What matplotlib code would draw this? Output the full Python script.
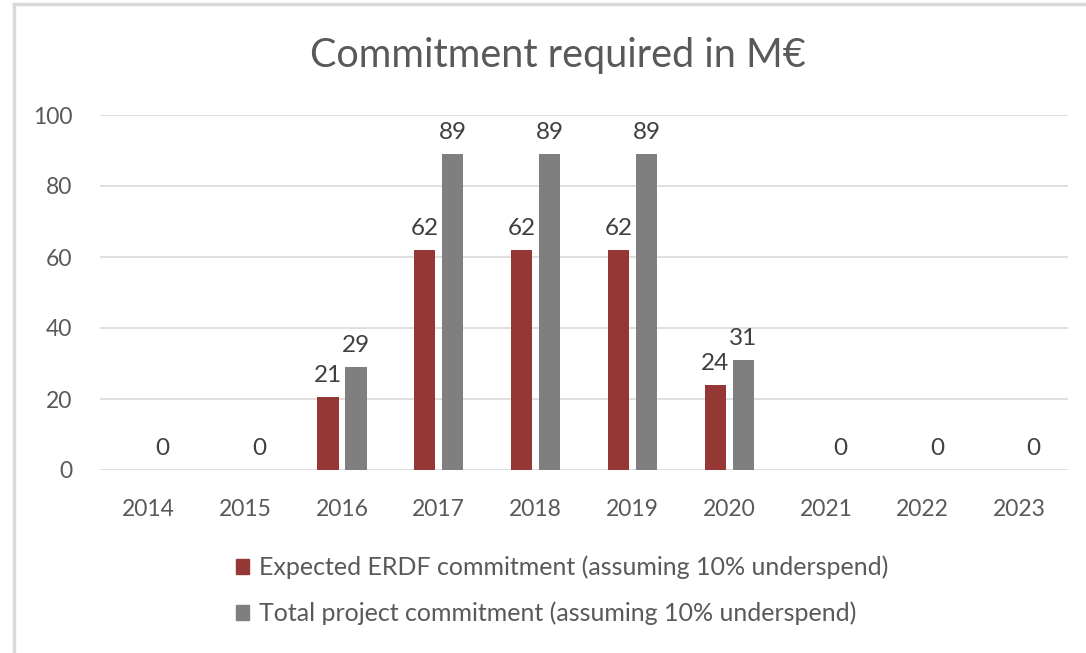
import numpy as np
import matplotlib.pyplot as plt
from matplotlib.patches import Patch
from matplotlib.lines import Line2D

years = ['2014', '2015', '2016', '2017', '2018', '2019', '2020', '2021', '2022', '2023']
erdf = [0, 0, 20.6, 62, 62, 62, 24, 0, 0, 0]
total = [0, 0, 29, 89, 89, 89, 31, 0, 0, 0]
erdf_labels = ['', '', '21', '62', '62', '62', '24', '', '', '']
total_labels = ['0', '0', '29', '89', '89', '89', '31', '0', '0', '0']

red = '#953735'
grey = '#7f7f7f'
txt = '#595959'

plt.rcParams['font.family'] = ['Lato', 'DejaVu Sans']

fig = plt.figure(figsize=(10.86, 6.53), dpi=100)
ax = fig.add_axes([100 / 1086, 1 - 470 / 653, 968 / 1086, 355 / 653])

x = np.arange(len(years))
w = 0.22
off = 0.145
b1 = ax.bar(x - off, erdf, w, color=red, label='Expected ERDF commitment (assuming 10% underspend)')
b2 = ax.bar(x + off, total, w, color=grey, label='Total project commitment (assuming 10% underspend)')
ax.bar_label(b1, labels=erdf_labels, padding=8, fontsize=17.5, color='#404040')
ax.bar_label(b2, labels=total_labels, padding=8, fontsize=17.5, color='#404040')

ax.set_xlim(-0.5, len(years) - 0.5)
ax.set_ylim(0, 100)
ax.set_yticks(range(0, 101, 20))
ax.set_xticks(x)
ax.set_xticklabels(years)
ax.tick_params(axis='both', length=0, labelsize=16.5, colors=txt)
ax.tick_params(axis='y', pad=20)
ax.tick_params(axis='x', pad=21)
ax.grid(axis='y', color='#d9d9d9', linewidth=1.2)
ax.set_axisbelow(True)
for s in ax.spines.values():
    s.set_visible(False)

fig.text(558 / 1086, 1 - 55 / 653, 'Commitment required in M€', ha='center', va='center',
         fontsize=28.5, color=txt)

handles = [Patch(color=red), Patch(color=grey)]
labels = ['Expected ERDF commitment (assuming 10% underspend)',
          'Total project commitment (assuming 10% underspend)']
fig.legend(handles, labels, loc='upper left', bbox_to_anchor=(213 / 1086, 1 - 533 / 653),
           frameon=False, fontsize=18, labelcolor=txt, handlelength=0.55, handleheight=0.55,
           handletextpad=0.4, labelspacing=0.9)

# chart frame (top and left edges visible)
fig.add_artist(Line2D([14 / 1086, 1], [1 - 4 / 653, 1 - 4 / 653], color='#d9d9d9', linewidth=2.5))
fig.add_artist(Line2D([14 / 1086, 14 / 1086], [0, 1 - 4 / 653], color='#d9d9d9', linewidth=2.5))

fig.savefig('out.png', dpi=100)
